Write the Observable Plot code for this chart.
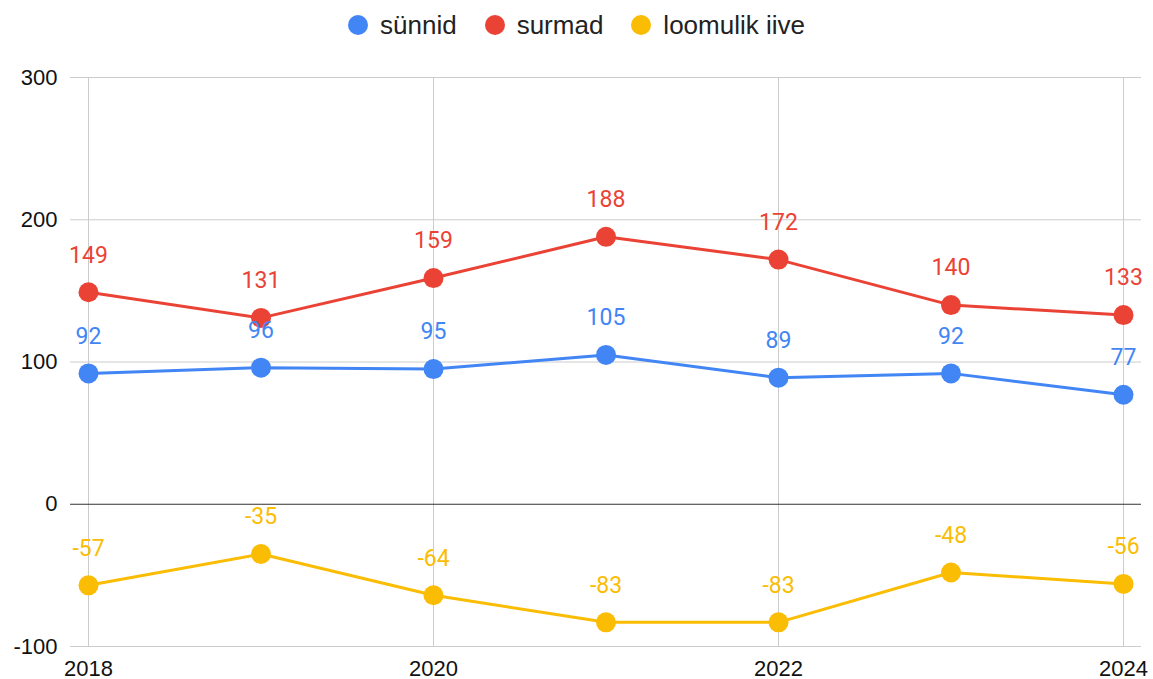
<!DOCTYPE html>
<html><head><meta charset="utf-8">
<script src="https://cdn.jsdelivr.net/npm/d3@7"></script>
<script src="https://cdn.jsdelivr.net/npm/@observablehq/plot@0.6"></script>
<style>
body{margin:0;background:#fff;overflow:hidden;}
#legend{height:50px;display:flex;justify-content:center;align-items:center;font-family:"Liberation Sans",Arial,sans-serif;font-size:26px;color:#222;}
.item{display:flex;align-items:center;margin:0 14px;}
.sw{width:20px;height:20px;border-radius:50%;margin-right:12px;}
</style></head><body>
<div id="legend"></div>
<div id="chart"></div>
<script>
const years = [2018, 2019, 2020, 2021, 2022, 2023, 2024];
const births = [92, 96, 95, 105, 89, 92, 77];
const deaths = [149, 131, 159, 188, 172, 140, 133];
const naturalChange = [-57, -35, -64, -83, -83, -48, -56];
const seriesNames = ["sünnid", "surmad", "loomulik iive"];
const seriesColors = ["#4285F4", "#EA4335", "#FBBC04"];
const yTicks = [-100, 0, 100, 200, 300];
const xTicks = [2018, 2020, 2022, 2024];

const seriesValues = [births, deaths, naturalChange];
const rows = [];
seriesNames.forEach((s, i) => years.forEach((y, j) => rows.push({year: y, value: seriesValues[i][j], series: s})));

const legend = document.getElementById("legend");
seriesNames.forEach((s, i) => {
  const it = document.createElement("div"); it.className = "item";
  const sw = document.createElement("span"); sw.className = "sw"; sw.style.background = seriesColors[i];
  const t = document.createElement("span"); t.textContent = s;
  it.appendChild(sw); it.appendChild(t); legend.appendChild(it);
});

const chart = Plot.plot({
  width: 1153,
  height: 640,
  marginTop: 27,
  marginBottom: 44,
  marginLeft: 70,
  marginRight: 12,
  style: {fontFamily: "'Liberation Sans', Arial, sans-serif", fontSize: "22px", color: "#111", background: "#fff"},
  x: {type: "linear", domain: [2018, 2024], inset: 18},
  y: {domain: [-100, 300]},
  color: {domain: seriesNames, range: seriesColors},
  marks: [
    Plot.ruleY(yTicks.filter(d => d !== 0), {stroke: "#cccccc", strokeWidth: 1}),
    Plot.ruleX(xTicks, {stroke: "#cccccc", strokeWidth: 1}),
    Plot.ruleY([0], {stroke: "#333333", strokeWidth: 1}),
    Plot.axisY({ticks: yTicks, tickSize: 0, tickPadding: 13, fontSize: 22, tickFormat: d => String(d), label: null}),
    Plot.axisX({ticks: xTicks, tickSize: 0, tickPadding: 14, fontSize: 22, tickFormat: d => String(d), label: null}),
    Plot.line(rows, {x: "year", y: "value", z: "series", stroke: "series", strokeWidth: 3}),
    Plot.dot(rows, {x: "year", y: "value", fill: "series", r: 10}),
    Plot.text(rows, {x: "year", y: "value", text: d => String(d.value), fill: "series", dy: -37, fontSize: 23, fontFamily: "Roboto"})
  ]
});
document.getElementById("chart").appendChild(chart);
</script>
</body></html>
